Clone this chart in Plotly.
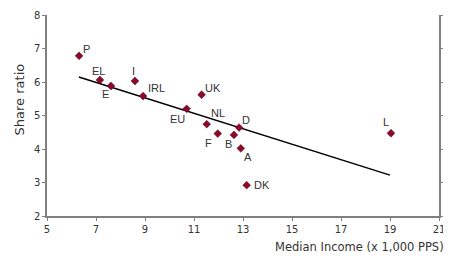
import plotly.graph_objects as go

countries = ["P", "EL", "E", "I", "IRL", "UK", "EU", "NL", "D", "F", "B", "A", "DK", "L"]
median_income = [6.31, 7.16, 7.61, 8.59, 8.92, 11.31, 10.70, 11.52, 12.84, 11.97, 12.63, 12.91, 13.15, 19.04]
share_ratio = [6.78, 6.06, 5.88, 6.03, 5.58, 5.62, 5.20, 4.74, 4.64, 4.46, 4.42, 4.02, 2.92, 4.47]
trend_x = [6.3, 19.0]
trend_y = [6.15, 3.22]
x_ticks = [5, 7, 9, 11, 13, 15, 17, 19, 21]
y_ticks = [2, 3, 4, 5, 6, 7, 8]

# label offsets in pixels (dx, dy with dy positive = up)
label_offsets = {
    "P": (7, 7), "EL": (-1, 9), "E": (-5, -8), "I": (-1, 10), "IRL": (13, 8),
    "UK": (11, 7), "EU": (-9, -10), "NL": (11, 11), "D": (7, 8), "F": (-9, -9),
    "B": (-5, -9), "A": (7, -9), "DK": (15, 0), "L": (-5, 11),
}

FONT = "Liberation Sans"
TFONT = "DejaVu Sans"
TXT = "#333333"
AX = "#808080"

fig = go.Figure()
fig.add_trace(go.Scatter(x=trend_x, y=trend_y, mode="lines",
                         line=dict(color="black", width=1.5), hoverinfo="skip", showlegend=False))
fig.add_trace(go.Scatter(x=median_income, y=share_ratio, mode="markers",
                         marker=dict(symbol="diamond", size=6, color="#8B0A2A",
                                     line=dict(color="#5a0018", width=0.5)),
                         showlegend=False))
fig.add_trace(go.Scatter(x=[5], y=[2], yaxis="y2", mode="markers",
                         marker=dict(opacity=0), showlegend=False, hoverinfo="skip"))

for c, xv, yv in zip(countries, median_income, share_ratio):
    dx, dy = label_offsets[c]
    fig.add_annotation(x=xv, y=yv, text=c, showarrow=False, xshift=dx, yshift=dy,
                       font=dict(family=FONT, size=11, color=TXT))

fig.add_annotation(xref="paper", yref="paper", x=1, y=0, xanchor="right", yanchor="middle",
                   xshift=7, yshift=-31, text="Median Income (x 1,000 PPS)", showarrow=False,
                   font=dict(family=TFONT, size=11.5, color=TXT))
fig.add_annotation(xref="paper", yref="paper", x=0, y=0.58, xanchor="center", yanchor="middle",
                   xshift=-28, text="Share ratio", textangle=-90, showarrow=False,
                   font=dict(family=TFONT, size=13, color=TXT))

axis_common = dict(showgrid=False, zeroline=False, showline=True, linecolor=AX, linewidth=1.5,
                   ticks="outside", ticklen=3, tickcolor=AX, automargin=False,
                   tickfont=dict(family=TFONT, size=10, color=TXT))

fig.update_layout(
    width=443, height=250,
    margin=dict(l=39, r=12, t=7, b=42),
    paper_bgcolor="white", plot_bgcolor="white",
    xaxis=dict(range=[5, 21], tickvals=x_ticks, **axis_common),
    yaxis=dict(range=[2, 8], tickvals=y_ticks, **axis_common),
    yaxis2=dict(range=[2, 8], tickvals=y_ticks, overlaying="y", side="right", **axis_common),
)

fig.write_html("out.html")
